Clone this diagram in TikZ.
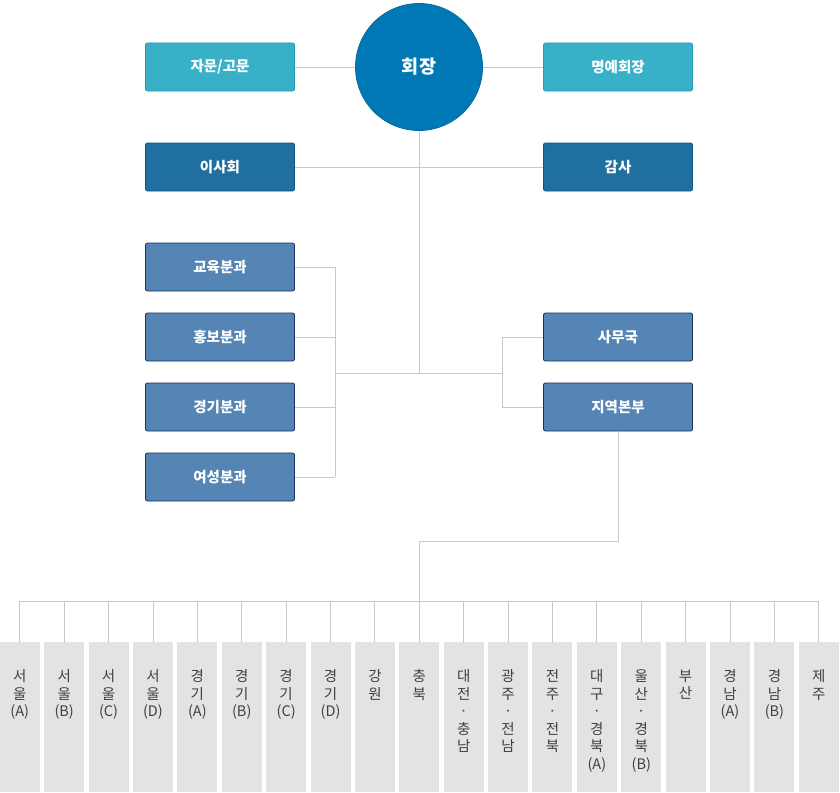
\documentclass[tikz,border=0pt]{standalone}
\usepackage{fontspec}
\setmainfont{Noto Sans CJK KR}
\usetikzlibrary{positioning}
\definecolor{ceofill}{RGB}{0,120,182}
\definecolor{ceoedge}{RGB}{10,104,160}
\definecolor{advfill}{RGB}{56,176,200}
\definecolor{advedge}{RGB}{36,156,182}
\definecolor{boardfill}{RGB}{31,111,160}
\definecolor{boardedge}{RGB}{16,84,130}
\definecolor{divfill}{RGB}{84,133,181}
\definecolor{divedge}{RGB}{26,48,92}
\definecolor{wiregray}{RGB}{200,200,200}
\definecolor{regfill}{RGB}{227,227,227}
\definecolor{regtext}{RGB}{64,64,64}

\tikzset{
  orgbox/.style={rectangle,rounded corners=2pt,minimum width=149pt,minimum height=48pt,
                 line width=0.8pt,text=white,font=\fontsize{14.5}{17}\selectfont\bfseries},
  advbox/.style={orgbox,fill=advfill,draw=advedge},
  boardbox/.style={orgbox,fill=boardfill,draw=boardedge},
  divbox/.style={orgbox,fill=divfill,draw=divedge},
  ceobox/.style={circle,fill=ceofill,draw=ceoedge,line width=0.8pt,minimum size=127pt,
                 text=white,font=\fontsize{18.5}{22}\selectfont\bfseries},
  regbox/.style={rectangle,fill=regfill,minimum width=40pt,minimum height=150pt,anchor=north,inner sep=0pt},
  regname/.style={align=center,text=regtext,inner sep=0pt,anchor=north,
                  font=\fontsize{14.5}{17.5}\selectfont},
  wire/.style={draw=wiregray,line width=0.9pt}
}

\begin{document}
\begin{tikzpicture}[x=1pt,y=-1pt]
  \useasboundingbox (0,0) rectangle (840,792);

  % top level
  \node[ceobox]   (chair)   at (419,67)  {회장};
  \node[advbox]   (advisor) at (220,67)  {자문/고문};
  \node[advbox]   (honor)   at (618,67)  {명예회장};
  \node[boardbox] (board)   at (220,167) {이사회};
  \node[boardbox] (audit)   at (618,167) {감사};

  % committees and secretariat
  \node[divbox] (edu)    at (220,267) {교육분과};
  \node[divbox] (pr)     at (220,337) {홍보분과};
  \node[divbox] (sport)  at (220,407) {경기분과};
  \node[divbox] (women)  at (220,477) {여성분과};
  \node[divbox] (office) at (618,337) {사무국};
  \node[divbox] (branch) at (618,407) {지역본부};

  \coordinate (hub)    at (419,373);
  \coordinate (lbus)   at (335,373);
  \coordinate (rbus)   at (502,373);
  \coordinate (drop)   at (419,541);
  \coordinate (regbus) at (419,601);

  % regional branches
  \foreach \lbl [count=\i] in {{서\\울\\(A)},{서\\울\\(B)},{서\\울\\(C)},{서\\울\\(D)},
      {경\\기\\(A)},{경\\기\\(B)},{경\\기\\(C)},{경\\기\\(D)},{강\\원},{충\\북},
      {대\\전\\·\\충\\남},{광\\주\\·\\전\\남},{전\\주\\·\\전\\북},
      {대\\구\\·\\경\\북\\(A)},{울\\산\\·\\경\\북\\(B)},{부\\산},
      {경\\남\\(A)},{경\\남\\(B)},{제\\주}}{
    \node[regbox] (reg\i) at ({19.8+44.39*(\i-1)},642) {};
    \node[regname, below=27.5pt of reg\i.north] (regname\i) {\lbl};
  }

  % connectors
  \draw[wire] (advisor) -- (chair);
  \draw[wire] (chair) -- (honor);
  \draw[wire] (board) -- (audit);
  \draw[wire] (chair) -- (hub);
  \draw[wire] (lbus) -- (rbus);
  \foreach \n in {edu,pr,sport,women}{
    \draw[wire] (\n.east) -- (\n.east -| lbus);
  }
  \draw[wire] (edu.east -| lbus) -- (women.east -| lbus);
  \draw[wire] (office.west) -- (office.west -| rbus) -- (branch.west -| rbus) -- (branch.west);
  \draw[wire] (branch.south) |- (drop) -- (regbus);
  \draw[wire] (reg1.north |- regbus) -- (reg19.north |- regbus);
  \foreach \i in {1,...,19}{
    \draw[wire] (reg\i.north |- regbus) -- (reg\i.north);
  }
\end{tikzpicture}
\end{document}
